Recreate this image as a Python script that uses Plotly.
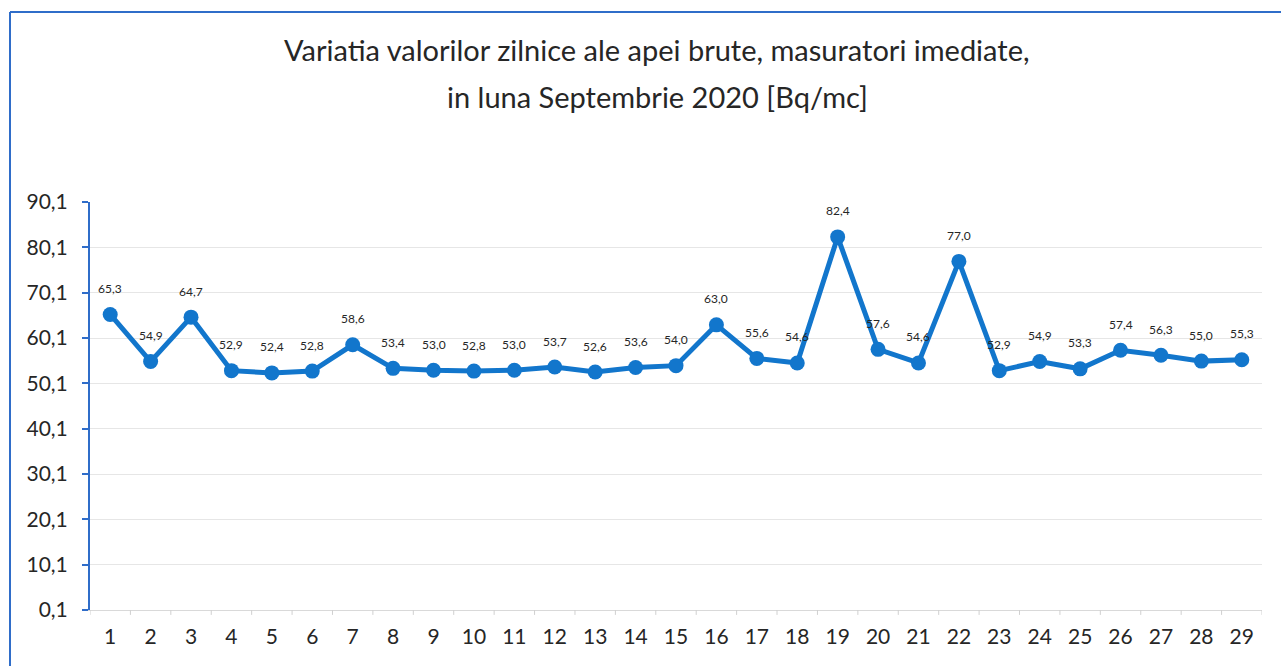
import plotly.graph_objects as go

# Daily raw-water activity values, September 2020 [Bq/mc]
days = list(range(1, 30))
values = [65.3, 54.9, 64.7, 52.9, 52.4, 52.8, 58.6, 53.4, 53.0, 52.8,
          53.0, 53.7, 52.6, 53.6, 54.0, 63.0, 55.6, 54.6, 82.4, 57.6,
          54.6, 77.0, 52.9, 54.9, 53.3, 57.4, 56.3, 55.0, 55.3]
y_ticks = [0.1, 10.1, 20.1, 30.1, 40.1, 50.1, 60.1, 70.1, 80.1, 90.1]
title_lines = ["Variatia valorilor zilnice ale apei brute, masuratori imediate,",
               "in luna Septembrie 2020 [Bq/mc]"]

LINE = "#1276cc"
FRAME = "#2f6dc9"
TEXT = "#262626"
FONT = "Lato, Carlito, Calibri, sans-serif"


def comma(v):
    return f"{v:.1f}".replace(".", ",")


fig = go.Figure()
fig.add_trace(go.Scatter(
    x=days, y=values,
    mode="lines+markers",
    line=dict(color=LINE, width=5),
    marker=dict(color=LINE, size=15),
    cliponaxis=False,
    hoverinfo="x+y",
))

fig.update_layout(
    width=1281, height=666,
    margin=dict(l=90, r=19, t=202, b=56),
    paper_bgcolor="white", plot_bgcolor="white",
    showlegend=False,
    font=dict(family=FONT, color=TEXT),
)
fig.update_xaxes(
    range=[0.5, 29.5],
    tickvals=days, ticktext=[str(d) for d in days],
    tickfont=dict(size=21, color=TEXT),
    showgrid=False, zeroline=False,
    showline=True, linecolor="#d9d9d9", linewidth=1,
    ticks="", ticklabelstandoff=8, fixedrange=True,
)
fig.update_yaxes(
    range=[0.1, 90.1],
    tickvals=y_ticks, ticktext=[comma(t) for t in y_ticks],
    tickfont=dict(size=21, color=TEXT),
    showgrid=True, gridcolor="#e6e6e6", gridwidth=1,
    zeroline=False,
    showline=True, linecolor=FRAME, linewidth=2,
    ticks="outside", ticklen=6, tickcolor=FRAME, tickwidth=2,
    ticklabelstandoff=10, fixedrange=True,
)

# value labels above each point
for d, v in zip(days, values):
    fig.add_annotation(
        x=d, y=v, text=comma(v), showarrow=False,
        yshift=26, xanchor="center", yanchor="middle",
        font=dict(size=12, color=TEXT, family=FONT),
    )

# small category separator ticks along the x axis
shapes = []
for d in days + [30]:
    shapes.append(dict(type="line", xref="x", yref="paper",
                       x0=d - 0.5, x1=d - 0.5, y0=0, y1=-0.012,
                       line=dict(color="#d0d0d0", width=1)))

# outer chart frame (left and top edges)
px_w, px_h = 1172, 408
fx = (10 - 90) / px_w
fy = (610 - 12) / px_h
shapes.append(dict(type="line", xref="paper", yref="paper",
                   x0=fx, x1=fx, y0=fy, y1=-0.2,
                   line=dict(color=FRAME, width=2)))
shapes.append(dict(type="line", xref="paper", yref="paper",
                   x0=fx, x1=(1281 - 90) / px_w, y0=fy, y1=fy,
                   line=dict(color=FRAME, width=2)))
fig.update_layout(shapes=shapes)

tx = (657 - 90) / px_w
for line, ypix in zip(title_lines, [49, 96]):
    fig.add_annotation(
        text=line, xref="paper", yref="paper",
        x=tx, y=(610 - ypix) / px_h,
        xanchor="center", yanchor="middle", showarrow=False,
        font=dict(size=29, color=TEXT, family=FONT),
    )

fig.write_html("out.html")
